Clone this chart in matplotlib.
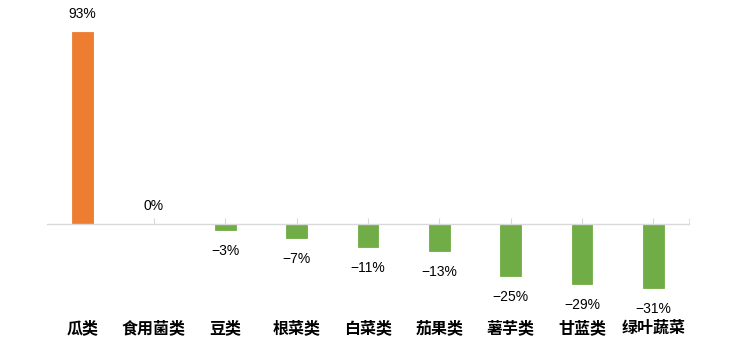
import matplotlib.pyplot as plt

# 数据
categories = ['瓜类', '食用菌类', '豆类', '根菜类', '白菜类', '茄果类', '薯芋类', '甘蓝类', '绿叶蔬菜']
values = [93, 0, -3, -7, -11, -13, -25, -29, -31]
labels = ['93%', '0%', '−3%', '−7%', '−11%', '−13%', '−25%', '−29%', '−31%']

orange = '#ED7D31'
green = '#70AD47'
colors = [orange if v > 0 else green for v in values]

fig = plt.figure(figsize=(7.49, 3.56), dpi=100)
ax = fig.add_axes([47 / 749, 56 / 356, 642 / 749, 280 / 356])

x = list(range(len(categories)))
ax.bar(x, values, width=0.29, color=colors, edgecolor=colors, linewidth=0.6, zorder=2)

ax.set_xlim(-0.5, 8.5)
ax.set_ylim(-36.8, 98.7)

# 坐标轴样式
for s in ['left', 'right', 'top']:
    ax.spines[s].set_visible(False)
ax.spines['bottom'].set_position(('data', 0))
ax.spines['bottom'].set_color('#D9D9D9')
ax.spines['bottom'].set_linewidth(1.0)
ax.set_yticks([])
ax.set_xticks(x)
ax.set_xticks([8.5], minor=True)
ax.tick_params(axis='x', which='both', direction='in', length=4, color='#D9D9D9',
               labelbottom=False)

# 数值标签
for xi, v, lab in zip(x, values, labels):
    if v >= 0:
        ax.annotate(lab, (xi, v), xytext=(0, 8), textcoords='offset points',
                    ha='center', va='bottom', fontsize=10, family='Liberation Sans')
    else:
        ax.annotate(lab, (xi, v), xytext=(0, -10), textcoords='offset points',
                    ha='center', va='top', fontsize=10, family='Liberation Sans')

# 类别标签
for xi, c in zip(x, categories):
    ax.text(xi, -50.3, c, ha='center', va='center', fontsize=11.5, fontweight='bold',
            family=['Noto Sans CJK SC', 'DejaVu Sans'], clip_on=False)

fig.savefig('out.png', dpi=100)
